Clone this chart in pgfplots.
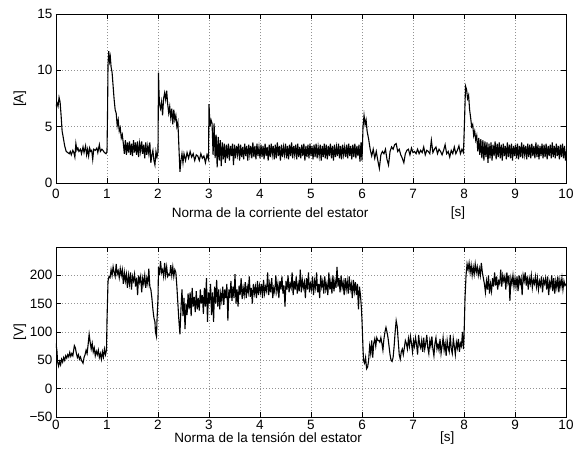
\documentclass[border=0pt]{standalone}
\usepackage{fontspec}
\setmainfont{Liberation Sans}
\usepackage{pgfplots}
\pgfplotsset{compat=1.18}

\newcommand{\lblfont}{\fontsize{13.5}{16}\selectfont}

\pgfplotsset{
  matlab/.style={
    scale only axis,
    width=510pt,
    xmin=0, xmax=10,
    xtick={0,1,...,10},
    grid=major,
    major grid style={dash pattern=on 1pt off 2pt, gray!85, line width=0.5pt},
    tick align=inside,
    major tick length=5pt,
    tick style={black, line width=0.5pt},
    axis line style={black, line width=0.8pt},
    every tick label/.append style={font=\lblfont},
    /pgf/number format/assume math mode=true,
    clip mode=individual,
  },
  sig/.style={black, line width=1.1pt, mark=none},
}

\begin{document}
\begin{tikzpicture}
\useasboundingbox (-56pt,-268pt) rectangle (524pt,183pt);

% corriente del estator
\begin{axis}[matlab,
  at={(0pt,0pt)}, anchor=south west,
  height=169pt,
  ymin=0, ymax=15, ytick={0,5,10,15},
  xticklabel style={yshift=-2.5pt},
]
\addplot[sig] coordinates {
(0,6.8) (0.02,7.1) (0.04,6.8) (0.06,7.6) (0.08,7.2) (0.10,6.0) (0.12,4.6) (0.14,4.1) (0.17,3.3) (0.20,2.8)
(0.23,2.7) (0.26,2.6) (0.28,2.8) (0.30,2.5) (0.33,2.9) (0.35,2.7) (0.37,2.3) (0.39,3.5) (0.41,2.9) (0.43,3.1)
(0.45,2.8) (0.48,3.0) (0.50,2.6) (0.53,3.2) (0.55,2.7) (0.58,3.3) (0.60,2.5) (0.62,3.0) (0.64,2.4) (0.66,3.1)
(0.68,2.8) (0.70,2.9) (0.72,2.1) (0.74,3.0) (0.77,2.9) (0.80,3.1) (0.82,2.7) (0.85,3.4) (0.87,2.8) (0.90,3.0)
(0.92,2.9) (0.95,2.7) (0.98,2.6) (1.00,2.8)
(1.01,6.0) (1.02,10.5) (1.035,11.7) (1.05,10.8) (1.065,11.2) (1.08,10.3) (1.10,9.8) (1.12,8.6) (1.14,7.4) (1.16,6.5)
(1.18,6.2) (1.20,5.1) (1.22,5.6) (1.24,4.6) (1.26,4.9) (1.28,4.0) (1.30,4.3) (1.32,3.5) (1.34,2.6) (1.36,3.8)
(1.38,2.5) (1.40,3.6) (1.42,2.7) (1.44,3.7) (1.46,2.5) (1.48,3.5) (1.50,2.4) (1.52,3.8) (1.54,2.7) (1.56,3.6)
(1.58,2.5) (1.60,3.7) (1.62,2.3) (1.64,3.5) (1.66,2.8) (1.68,3.7) (1.70,2.6) (1.72,3.4) (1.74,2.2) (1.76,3.6)
(1.78,2.5) (1.80,3.3) (1.82,2.6) (1.84,3.6) (1.86,1.8) (1.88,2.5) (1.90,2.9) (1.92,2.0) (1.94,1.6) (1.96,2.8)
(1.98,2.3) (2.00,2.8)
(2.01,9.8) (2.02,8.0) (2.03,7.0) (2.05,6.6) (2.07,7.2) (2.09,6.0) (2.11,7.5) (2.13,8.0) (2.15,7.4) (2.17,8.2)
(2.19,7.0) (2.21,6.2) (2.23,6.8) (2.25,5.8) (2.27,6.6) (2.29,5.2) (2.31,6.5) (2.33,5.6) (2.35,6.0) (2.37,5.0)
(2.39,5.4) (2.41,3.2) (2.43,1.0) (2.45,2.0) (2.47,2.6) (2.49,1.8) (2.51,2.6) (2.54,2.0) (2.57,2.7) (2.60,2.2)
(2.63,2.8) (2.66,2.3) (2.69,2.6) (2.72,2.0) (2.75,2.5) (2.78,2.4) (2.81,2.0) (2.84,2.6) (2.87,2.2) (2.90,2.4)
(2.93,1.8) (2.96,2.5) (2.99,2.1)
(3.00,7.0) (3.02,5.0) (3.04,5.6) (3.06,5.3) (3.08,2.5) (3.10,5.3) (3.12,2.2) (3.14,4.3) (3.16,1.4) (3.18,4.1)
(3.20,2.0) (3.22,3.8) (3.24,1.5) (3.26,3.6) (3.28,2.1) (3.30,3.5) (3.32,1.8) (3.34,3.4) (3.36,2.2) (3.38,3.5)
(3.40,2.0) (3.42,3.3) (3.44,2.4) (3.46,3.5) (3.48,1.6) (3.50,3.4) (3.52,2.2) (3.54,3.3) (3.56,2.5) (3.58,3.5)
(3.60,2.0) (3.62,3.4) (3.64,2.3) (3.66,3.2) (3.68,2.1) (3.70,3.5) (3.72,2.4) (3.74,3.3) (3.76,2.0) (3.78,3.4)
(3.80,2.5) (3.82,3.3) (3.84,2.2) (3.86,3.6) (3.88,2.3) (3.90,3.3) (3.92,2.1) (3.94,3.5) (3.96,2.4) (3.98,3.2)
(4.00,2.2) (4.02,3.4) (4.04,2.3) (4.06,3.3) (4.08,2.1) (4.10,3.5) (4.12,2.4) (4.14,3.2) (4.16,2.0) (4.18,3.4)
(4.20,2.3) (4.22,3.5) (4.24,2.5) (4.26,3.3) (4.28,2.1) (4.30,3.4) (4.32,2.2) (4.34,3.6) (4.36,2.4) (4.38,3.3)
(4.40,2.0) (4.42,3.4) (4.44,2.3) (4.46,3.2) (4.48,2.5) (4.50,3.5) (4.52,2.2) (4.54,3.3) (4.56,2.1) (4.58,3.4)
(4.60,2.4) (4.62,3.6) (4.64,2.2) (4.66,3.3) (4.68,2.5) (4.70,3.4) (4.72,2.1) (4.74,3.5) (4.76,2.3) (4.78,3.2)
(4.80,2.2) (4.82,3.4) (4.84,2.4) (4.86,3.5) (4.88,2.0) (4.90,3.3) (4.92,2.3) (4.94,3.4) (4.96,2.2) (4.98,3.5)
(5.00,2.4) (5.02,3.3) (5.04,2.1) (5.06,3.4) (5.08,2.3) (5.10,3.5) (5.12,2.2) (5.14,3.2) (5.16,2.4) (5.18,3.4)
(5.20,2.0) (5.22,3.3) (5.24,2.3) (5.26,3.5) (5.28,2.2) (5.30,3.4) (5.32,2.1) (5.34,3.3) (5.36,2.4) (5.38,3.5)
(5.40,2.2) (5.42,3.3) (5.44,2.0) (5.46,3.4) (5.48,2.3) (5.50,3.2) (5.52,2.4) (5.54,3.5) (5.56,2.2) (5.58,3.3)
(5.60,2.1) (5.62,3.4) (5.64,2.5) (5.66,3.2) (5.68,2.3) (5.70,3.4) (5.72,2.2) (5.74,3.5) (5.76,2.4) (5.78,3.3)
(5.80,2.1) (5.82,3.4) (5.84,2.3) (5.86,3.5) (5.88,2.2) (5.90,3.3) (5.92,2.4) (5.94,3.4) (5.96,1.9) (5.98,3.6)
(6.00,2.0) (6.02,5.0) (6.04,6.0) (6.06,5.2) (6.08,5.6) (6.10,4.6) (6.13,3.9) (6.16,3.0) (6.19,2.4) (6.22,3.0)
(6.25,2.2) (6.28,2.8) (6.31,2.0) (6.34,1.3) (6.37,2.5) (6.40,2.8) (6.43,2.6) (6.46,3.0) (6.49,2.1) (6.52,1.6)
(6.55,2.8) (6.58,3.2) (6.61,3.0) (6.64,3.4) (6.67,3.5) (6.70,2.8) (6.73,3.0) (6.76,2.5) (6.79,2.2) (6.82,1.8)
(6.85,2.6) (6.88,2.9) (6.91,3.0) (6.94,2.5) (6.97,3.1) (7.00,2.7) (7.03,2.8) (7.06,2.6) (7.09,3.0) (7.12,2.6)
(7.15,2.9) (7.18,2.7) (7.21,3.2) (7.24,2.5) (7.27,2.9) (7.30,2.8) (7.33,2.6) (7.36,3.8) (7.39,2.7) (7.42,3.0)
(7.45,3.2) (7.48,2.6) (7.51,3.0) (7.54,2.8) (7.57,2.5) (7.60,2.9) (7.63,3.4) (7.66,2.6) (7.69,2.8) (7.72,2.3)
(7.75,2.9) (7.78,2.6) (7.81,3.2) (7.84,2.6) (7.87,2.9) (7.90,3.3) (7.93,2.6) (7.96,3.0) (7.99,2.7)
(8.01,5.5) (8.03,8.6) (8.05,8.3) (8.07,7.5) (8.09,7.8) (8.11,6.5) (8.13,5.8) (8.15,5.0) (8.17,5.2) (8.19,4.2)
(8.21,4.6) (8.23,3.8) (8.25,4.2) (8.27,2.8) (8.29,4.0) (8.31,2.5) (8.33,3.9) (8.35,2.2) (8.37,3.8) (8.39,2.0)
(8.41,3.7) (8.43,2.3) (8.45,3.6) (8.47,1.8) (8.49,3.5) (8.51,2.2) (8.53,3.6) (8.55,2.0) (8.57,3.4) (8.59,2.4)
(8.61,3.7) (8.63,2.1) (8.65,3.5) (8.67,2.3) (8.69,3.6) (8.71,2.2) (8.73,3.4) (8.75,2.0) (8.77,3.5) (8.79,2.4)
(8.81,3.3) (8.83,2.1) (8.85,3.6) (8.87,2.3) (8.89,3.4) (8.91,2.2) (8.93,3.5) (8.95,2.0) (8.97,3.3) (8.99,2.4)
(9.01,3.4) (9.03,2.2) (9.05,3.5) (9.07,2.1) (9.09,3.3) (9.11,2.3) (9.13,3.6) (9.15,2.2) (9.17,3.4) (9.19,2.5)
(9.21,3.3) (9.23,2.1) (9.25,3.5) (9.27,2.3) (9.29,3.4) (9.31,2.2) (9.33,3.5) (9.35,2.4) (9.37,3.3) (9.39,2.2)
(9.41,3.6) (9.43,2.3) (9.45,3.4) (9.47,2.1) (9.49,3.3) (9.51,2.4) (9.53,3.5) (9.55,2.2) (9.57,3.4) (9.59,2.3)
(9.61,3.5) (9.63,2.1) (9.65,3.3) (9.67,2.4) (9.69,3.4) (9.71,2.2) (9.73,3.6) (9.75,2.3) (9.77,3.3) (9.79,2.2)
(9.81,3.5) (9.83,2.4) (9.85,3.3) (9.87,2.1) (9.89,3.4) (9.91,2.3) (9.93,3.5) (9.95,2.2) (9.97,3.3) (9.99,2.0)
(10.00,2.8)
};
\node[font=\lblfont] at ([yshift=-30pt]rel axis cs:0.42,0) {Norma de la corriente del estator};
\node[font=\lblfont] at ([yshift=-30pt]rel axis cs:0.788,0) {[s]};
\node[font=\lblfont, rotate=90] at ([xshift=-36pt]rel axis cs:0,0.5) {[A]};
\end{axis}

% tension del estator
\begin{axis}[matlab,
  at={(0pt,-234pt)}, anchor=south west,
  height=170pt,
  ymin=-50, ymax=250, ytick={-50,0,50,100,150,200},
  yticklabels={−50,0,50,100,150,200},
]
\addplot[sig] coordinates {
(0,80) (0.02,65) (0.03,48) (0.05,40) (0.07,48) (0.09,42) (0.11,52) (0.13,47) (0.15,55) (0.17,50)
(0.19,58) (0.21,54) (0.23,60) (0.25,56) (0.27,64) (0.29,57) (0.31,62) (0.33,58) (0.36,76) (0.38,72)
(0.40,62) (0.42,55) (0.44,60) (0.46,52) (0.48,56) (0.50,50) (0.53,45) (0.55,55) (0.57,60) (0.59,68)
(0.61,62) (0.63,78) (0.65,96) (0.67,82) (0.69,70) (0.71,80) (0.73,65) (0.75,72) (0.77,58) (0.79,66)
(0.81,60) (0.83,68) (0.85,55) (0.87,62) (0.89,52) (0.91,65) (0.93,56) (0.95,70) (0.97,60) (0.99,68)
(1.00,120) (1.02,190) (1.04,198) (1.06,196) (1.08,210) (1.10,200) (1.12,215) (1.14,205) (1.16,198) (1.18,220)
(1.20,202) (1.22,208) (1.24,196) (1.26,212) (1.28,200) (1.30,210) (1.32,185) (1.34,205) (1.36,190) (1.38,202)
(1.40,178) (1.42,200) (1.44,185) (1.46,205) (1.48,175) (1.50,198) (1.52,190) (1.54,202) (1.56,180) (1.58,196)
(1.60,165) (1.62,200) (1.64,188) (1.66,198) (1.68,170) (1.70,195) (1.72,185) (1.74,200) (1.76,178) (1.78,195)
(1.80,185) (1.82,212) (1.84,180) (1.86,175) (1.88,160) (1.90,140) (1.92,125) (1.94,118) (1.95,100) (1.97,92)
(1.98,120) (2.00,160)
(2.01,215) (2.03,200) (2.05,225) (2.07,205) (2.09,210) (2.11,198) (2.13,222) (2.15,200) (2.17,215) (2.19,198)
(2.21,202) (2.23,200) (2.25,218) (2.27,200) (2.29,215) (2.31,198) (2.33,210) (2.35,205) (2.37,180) (2.39,150)
(2.41,120) (2.43,96) (2.45,140) (2.47,175) (2.49,128) (2.51,160) (2.53,105) (2.55,150) (2.57,130) (2.59,168)
(2.61,140) (2.63,170) (2.65,128) (2.67,178) (2.69,145) (2.71,162) (2.73,135) (2.75,172) (2.77,140) (2.79,160)
(2.81,138) (2.83,175) (2.85,150) (2.87,165) (2.89,132) (2.91,178) (2.93,145) (2.95,195) (2.97,118) (2.99,170)
(3.01,150) (3.03,185) (3.05,130) (3.07,170) (3.09,118) (3.11,180) (3.13,150) (3.15,192) (3.17,145) (3.19,175)
(3.21,140) (3.23,168) (3.25,155) (3.27,180) (3.29,148) (3.31,175) (3.33,160) (3.35,185) (3.37,120) (3.39,175)
(3.41,160) (3.43,190) (3.45,155) (3.47,180) (3.49,160) (3.51,202) (3.53,150) (3.55,175) (3.57,145) (3.59,182)
(3.61,165) (3.63,195) (3.65,158) (3.67,178) (3.69,165) (3.71,188) (3.73,160) (3.75,180) (3.77,170) (3.79,198)
(3.81,162) (3.83,178) (3.85,150) (3.87,185) (3.89,168) (3.91,180) (3.93,160) (3.95,190) (3.97,165) (3.99,182)
(4.01,170) (4.03,185) (4.05,160) (4.07,192) (4.09,168) (4.11,180) (4.13,172) (4.15,205) (4.17,165) (4.19,185)
(4.21,170) (4.23,195) (4.25,160) (4.27,178) (4.29,170) (4.31,200) (4.33,172) (4.35,185) (4.37,160) (4.39,190)
(4.41,175) (4.43,198) (4.45,168) (4.47,182) (4.49,145) (4.51,190) (4.53,175) (4.55,200) (4.57,170) (4.59,185)
(4.61,178) (4.63,205) (4.65,165) (4.67,190) (4.69,175) (4.71,198) (4.73,168) (4.75,185) (4.77,172) (4.79,210)
(4.81,170) (4.83,192) (4.85,178) (4.87,188) (4.89,160) (4.91,195) (4.93,175) (4.95,205) (4.97,170) (4.99,185)
(5.01,175) (5.03,198) (5.05,165) (5.07,190) (5.09,178) (5.11,205) (5.13,170) (5.15,185) (5.17,160) (5.19,200)
(5.21,180) (5.23,190) (5.25,168) (5.27,198) (5.29,175) (5.31,185) (5.33,165) (5.35,205) (5.37,175) (5.39,190)
(5.41,168) (5.43,200) (5.45,172) (5.47,190) (5.49,178) (5.51,215) (5.53,180) (5.55,195) (5.57,170) (5.59,200)
(5.61,178) (5.63,188) (5.65,165) (5.67,195) (5.69,175) (5.71,190) (5.73,168) (5.75,198) (5.77,175) (5.79,185)
(5.81,160) (5.83,192) (5.85,172) (5.87,188) (5.89,165) (5.91,185) (5.93,140) (5.95,180) (5.97,165) (5.99,140)
(6.00,120) (6.02,70) (6.03,50) (6.05,45) (6.07,55) (6.09,35) (6.11,38) (6.13,50) (6.15,75) (6.17,62)
(6.19,85) (6.21,55) (6.23,80) (6.25,88) (6.27,75) (6.29,90) (6.31,85) (6.33,85) (6.35,82) (6.37,90)
(6.39,80) (6.41,68) (6.43,88) (6.45,100) (6.47,108) (6.49,100) (6.51,90) (6.53,75) (6.55,60) (6.57,50)
(6.59,48) (6.61,55) (6.63,75) (6.65,100) (6.67,120) (6.69,110) (6.71,85) (6.73,60) (6.75,52) (6.77,65)
(6.79,70) (6.81,60) (6.83,72) (6.85,85) (6.87,80) (6.89,70) (6.91,88) (6.93,75) (6.95,92) (6.97,80)
(6.99,65) (7.01,85) (7.03,75) (7.05,90) (7.07,78) (7.09,60) (7.11,95) (7.13,78) (7.15,72) (7.17,85)
(7.19,65) (7.21,90) (7.23,70) (7.25,80) (7.27,95) (7.29,72) (7.31,62) (7.33,85) (7.35,75) (7.37,92)
(7.39,70) (7.41,58) (7.43,80) (7.45,90) (7.47,70) (7.49,78) (7.51,68) (7.53,88) (7.55,62) (7.57,75)
(7.59,90) (7.61,68) (7.63,80) (7.65,58) (7.67,85) (7.69,72) (7.71,65) (7.73,95) (7.75,70) (7.77,62)
(7.79,88) (7.81,75) (7.83,60) (7.85,82) (7.87,72) (7.89,88) (7.91,65) (7.93,80) (7.95,75) (7.97,100)
(7.99,70) (8.00,90)
(8.02,160) (8.04,200) (8.06,220) (8.08,210) (8.10,222) (8.12,205) (8.14,218) (8.16,200) (8.18,215) (8.20,202)
(8.22,220) (8.24,205) (8.26,215) (8.28,200) (8.30,212) (8.32,200) (8.34,222) (8.36,205) (8.38,195) (8.40,185)
(8.42,170) (8.44,190) (8.46,175) (8.48,200) (8.50,168) (8.52,185) (8.54,172) (8.56,195) (8.58,180) (8.60,205)
(8.62,182) (8.64,198) (8.66,175) (8.68,190) (8.70,185) (8.72,210) (8.74,180) (8.76,200) (8.78,190) (8.80,198)
(8.82,175) (8.84,205) (8.86,188) (8.88,200) (8.90,155) (8.92,195) (8.94,185) (8.96,200) (8.98,180)
(9.00,195) (9.02,180) (9.04,198) (9.06,172) (9.08,200) (9.10,185) (9.12,195) (9.14,165) (9.16,200) (9.18,190)
(9.20,205) (9.22,182) (9.24,198) (9.26,175) (9.28,195) (9.30,185) (9.32,200) (9.34,178) (9.36,192) (9.38,185)
(9.40,198) (9.42,180) (9.44,195) (9.46,175) (9.48,190) (9.50,182) (9.52,198) (9.54,170) (9.56,192) (9.58,185)
(9.60,195) (9.62,175) (9.64,198) (9.66,165) (9.68,188) (9.70,180) (9.72,200) (9.74,172) (9.76,195) (9.78,168)
(9.80,190) (9.82,178) (9.84,198) (9.86,170) (9.88,192) (9.90,180) (9.92,195) (9.94,175) (9.96,190) (9.98,182)
(10.00,185)
};
\node[font=\lblfont] at ([yshift=-21pt]rel axis cs:0.416,0) {Norma de la tensión del estator};
\node[font=\lblfont] at ([yshift=-21pt]rel axis cs:0.767,0) {[s]};
\node[font=\lblfont, rotate=90] at ([xshift=-36pt]rel axis cs:0,0.5) {[V]};
\end{axis}
\end{tikzpicture}
\end{document}
